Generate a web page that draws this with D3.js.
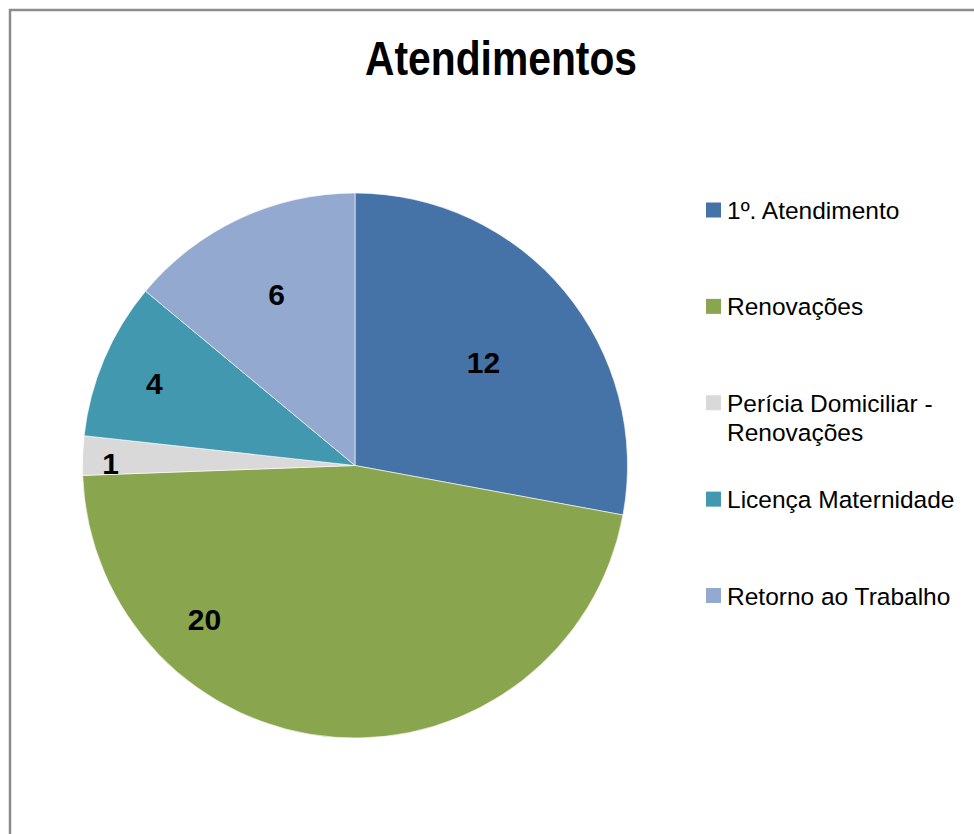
<!DOCTYPE html>
<html>
<head>
<meta charset="utf-8">
<script src="https://cdn.jsdelivr.net/npm/d3@7"></script>
<style>
  html, body { margin: 0; padding: 0; background: #fff; }
</style>
</head>
<body>
<div id="chart"></div>
<script>
// data
var categories = ["1º. Atendimento", "Renovações", "Perícia Domiciliar - Renovações", "Licença Maternidade", "Retorno ao Trabalho"];
var values = [12, 20, 1, 4, 6];
var colors = ["#4572A7", "#89A54E", "#D9D9D9", "#4198AF", "#93A9CF"];
// legend text split in lines (the third entry wraps)
var legendLines = [["1º. Atendimento"], ["Renovações"], ["Perícia Domiciliar -", "Renovações"], ["Licença Maternidade"], ["Retorno ao Trabalho"]];

var W = 974, H = 834;
var cfg = {
    cx: 355,
    cy: 465.5,
    r: 272.5,
    legendX: 706,
    legendTop: 210,
    legendBottom: 595.5
};
// where excel dropped each label: [fraction of radius, fraction across slice]
var labelPlacement = [[0.605, 0.51], [0.79, 0.74], [0.897, 0.31], [0.796, 0.48], [0.69, 0.51]];

var svg = d3.select("#chart")
    .append("svg")
    .attr("width", W)
    .attr("height", H);

svg.append("rect")
    .attr("width", W)
    .attr("height", H)
    .attr("fill", "#fff");

// chart area border, runs off the right and bottom
svg.append("rect")
    .attr("x", 10)
    .attr("y", 10)
    .attr("width", 1100)
    .attr("height", 1000)
    .attr("fill", "none")
    .attr("stroke", "#8c8c8c")
    .attr("stroke-width", 2.5);

// narrow bold title: squeeze the regular face to the width in the picture
svg.append("text")
    .attr("x", 365)
    .attr("y", 75)
    .attr("textLength", 272)
    .attr("lengthAdjust", "spacingAndGlyphs")
    .style("font-family", "'Liberation Sans', Arial, sans-serif")
    .style("font-weight", "bold")
    .style("font-size", "48px")
    .text("Atendimentos");

var color = d3.scaleOrdinal().domain(categories).range(colors);

var pie = d3.pie().sort(null).value(function(d){ return d; });
var arcs = pie(values);

var arc = d3.arc().innerRadius(0).outerRadius(cfg.r);

var g = svg.append("g")
    .attr("transform", "translate(" + cfg.cx + "," + cfg.cy + ")");

g.selectAll(".slice")
    .data(arcs)
    .enter()
    .append("path")
    .attr("class", "slice")
    .attr("d", arc)
    .attr("fill", function(d, i){ return color(categories[i]); })
    .attr("stroke", "#fff")
    .attr("stroke-width", 0.6);

g.selectAll(".lbl")
    .data(arcs)
    .enter()
    .append("text")
    .attr("class", "lbl")
    .attr("transform", function(d, i){
        var p = labelPlacement[i];
        var a = d.startAngle + (d.endAngle - d.startAngle) * p[1];
        var rr = cfg.r * p[0];
        return "translate(" + (rr * Math.sin(a)) + "," + (-rr * Math.cos(a)) + ")";
    })
    .attr("text-anchor", "middle")
    .attr("dy", "0.36em")
    .style("font-family", "'Liberation Sans', Arial, sans-serif")
    .style("font-weight", "bold")
    .style("font-size", "30px")
    .attr("fill", "#000")
    .text(function(d){ return d.data; });

// legend
var ly = d3.scalePoint()
    .domain(categories)
    .range([cfg.legendTop, cfg.legendBottom]);

var leg = svg.selectAll(".legend")
    .data(categories)
    .enter()
    .append("g")
    .attr("class", "legend")
    .attr("transform", function(d){ return "translate(" + cfg.legendX + "," + ly(d) + ")"; });

leg.append("rect")
    .attr("x", 0)
    .attr("y", -7.5)
    .attr("width", 15)
    .attr("height", 15)
    .attr("fill", function(d){ return color(d); });

leg.append("text")
    .attr("x", 21)
    .attr("y", 9)
    .style("font-family", "'Liberation Sans', Arial, sans-serif")
    .style("font-size", "24.5px")
    .attr("fill", "#000")
    .each(function(d, i){
        var t = d3.select(this);
        legendLines[i].forEach(function(line, k){
            t.append("tspan")
                .attr("x", 21)
                .attr("dy", k === 0 ? 0 : 29)
                .text(line);
        });
    });
</script>
</body>
</html>
